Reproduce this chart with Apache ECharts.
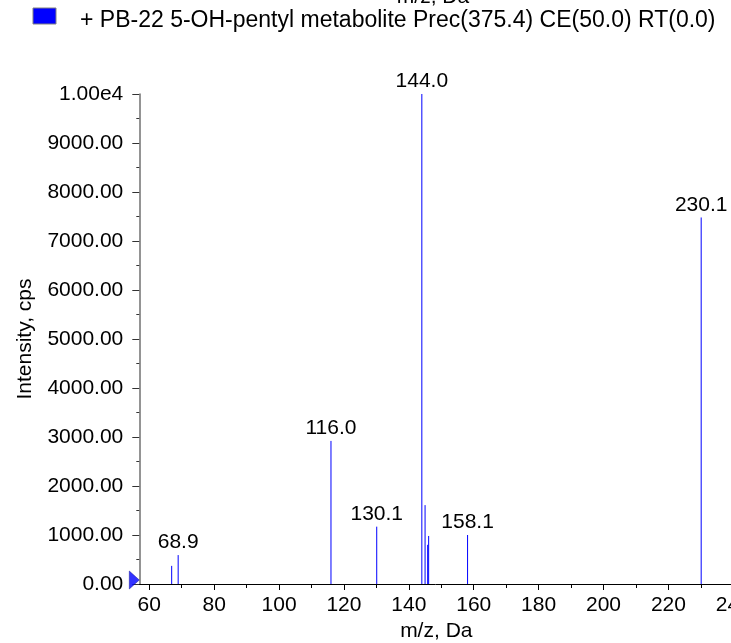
<!DOCTYPE html>
<html>
<head>
<meta charset="utf-8">
<style>
html,body{margin:0;padding:0;background:#fff;}
#chart{width:731px;height:643px;}
</style>
<script src="https://cdn.jsdelivr.net/npm/echarts@6/dist/echarts.min.js"></script>
</head>
<body>
<div id="chart"></div>
<script>
// ---- data ----
const seriesName = '+ PB-22 5-OH-pentyl metabolite Prec(375.4) CE(50.0) RT(0.0)';
const mz =        [66.9, 68.9, 116.0, 130.1, 144.0, 145.0, 145.8, 146.1, 158.1, 230.1];
const intensity = [370,  590,  2920,  1170,  10000, 1610,  800,   980,   1000,  7480];
const peakLabels = ['', '68.9', '116.0', '130.1', '144.0', '', '', '', '158.1', '230.1'];
const xMajorTicks = [60, 80, 100, 120, 140, 160, 180, 200, 220, 240];
const xMinorTicks = [70, 90, 110, 130, 150, 170, 190, 210, 230];
const yTickLabels = ['0.00', '1000.00', '2000.00', '3000.00', '4000.00', '5000.00',
                     '6000.00', '7000.00', '8000.00', '9000.00', '1.00e4'];
const xMin = 56.92, xMax = 240, yMin = 0, yMax = 10000;

const FONT = 'Liberation Sans, Arial, sans-serif';
const chart = echarts.init(document.getElementById('chart'));

const points = mz.map((m, i) => [m, intensity[i]]);

chart.setOption({
  animation: false,
  backgroundColor: '#fff',
  textStyle: { fontFamily: FONT },
  graphic: [{
    type: 'rect', x: 33, y: 8,
    shape: { width: 23, height: 16 },
    style: { fill: '#0000ff', stroke: '#808080', lineWidth: 1 }
  }, {
    type: 'text', x: 80, y: 21,
    style: { text: seriesName, font: '23px ' + FONT, fill: '#000', align: 'left', verticalAlign: 'middle' }
  }, {
    type: 'text', x: 433, y: 8,
    style: { text: 'm/z, Da', font: '21px ' + FONT, fill: '#000', align: 'center', verticalAlign: 'bottom' }
  }],
  grid: { left: 139.3, right: -2.3, top: 94, bottom: 59, containLabel: false, outerBoundsMode: 'none' },
  xAxis: [{
    type: 'value', min: xMin, max: xMax,
    name: 'm/z, Da', nameLocation: 'middle', nameGap: 35,
    nameTextStyle: { fontFamily: FONT, fontSize: 21, color: '#000' },
    axisLine: { show: true, onZero: false, lineStyle: { color: '#000', width: 1 } },
    axisTick: { show: true, length: 6, customValues: xMajorTicks, lineStyle: { color: '#000' } },
    axisLabel: { show: true, customValues: xMajorTicks, margin: 11, fontFamily: FONT, fontSize: 21, color: '#000' },
    splitLine: { show: false }
  }, {
    type: 'value', min: xMin, max: xMax, position: 'bottom',
    axisLine: { show: false },
    axisTick: { show: true, length: 4, customValues: xMinorTicks, lineStyle: { color: '#000' } },
    axisLabel: { show: false },
    splitLine: { show: false }
  }],
  yAxis: {
    type: 'value', min: yMin, max: yMax, interval: 1000,
    name: 'Intensity, cps', nameLocation: 'middle', nameGap: 104, nameRotate: 90,
    nameTextStyle: { fontFamily: FONT, fontSize: 21, color: '#000' },
    axisLine: { show: true, lineStyle: { color: '#707070', width: 1.5 } },
    axisTick: { show: true, length: 7, lineStyle: { color: '#333' } },
    minorTick: { show: true, splitNumber: 2, length: 3, lineStyle: { color: '#333' } },
    axisLabel: {
      margin: 16, fontFamily: FONT, fontSize: 21, color: '#000',
      formatter: v => yTickLabels[Math.round(v / 1000)]
    },
    splitLine: { show: false }
  },
  series: [{
    name: seriesName,
    type: 'custom',
    xAxisIndex: 0,
    itemStyle: { color: '#0000ff' },
    data: points,
    renderItem: function (params, api) {
      const x = api.value(0), y = api.value(1);
      const p0 = api.coord([x, 0]);
      const p1 = api.coord([x, y]);
      const children = [{
        type: 'line',
        shape: { x1: p0[0], y1: p0[1], x2: p1[0], y2: p1[1] },
        style: { stroke: '#0000ff', lineWidth: 1 }
      }];
      const lbl = peakLabels[params.dataIndex];
      if (lbl) {
        children.push({
          type: 'text',
          x: p1[0], y: p1[1] - 2,
          style: { text: lbl, font: '21px ' + FONT, fill: '#000', align: 'center', verticalAlign: 'bottom' }
        });
      }
      return { type: 'group', children: children };
    }
  }, {
    name: 'marker',
    type: 'scatter',
    xAxisIndex: 0,
    data: [[xMin, 0]],
    symbol: 'triangle',
    symbolSize: [18, 10],
    symbolRotate: -90,
    symbolOffset: [-5, -4],
    clip: false,
    silent: true,
    itemStyle: { color: '#0000ff', borderColor: '#000080', borderWidth: 0.5 },
    z: 5
  }]
});
</script>
</body>
</html>
